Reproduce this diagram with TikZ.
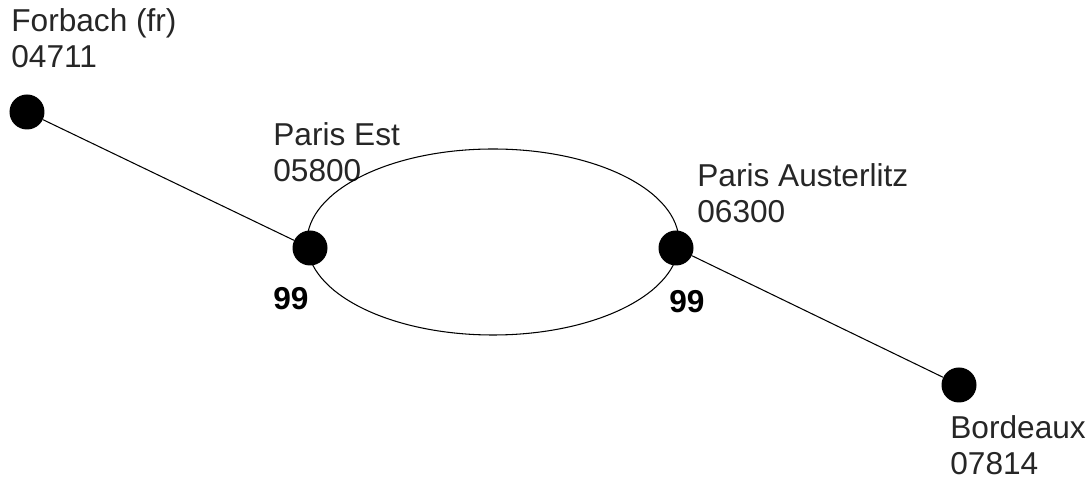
\documentclass[tikz,border=0pt]{standalone}
\usepackage{fontspec}
\setmainfont{Liberation Sans}
\usetikzlibrary{calc}
\tikzset{
	station/.style={circle, fill=black, inner sep=0pt, minimum size=0.7cm},
	stationname/.style={anchor=base west, inner sep=0pt, align=left, color=black!85,
		font=\fontsize{18}{20.5}\selectfont},
	weight/.style={anchor=base west, inner sep=0pt,
		font=\fontsize{18}{20.5}\selectfont\bfseries}
}

\begin{document}
\begin{tikzpicture}
		%%%%% START %%%%%
		\useasboundingbox (0, 0) rectangle (21.84, 9.64);
		
		\node[station] (forbach) at (0.54, 7.40) {};
		\node[station] (parisest) at (6.20, 4.68) {};
		\node[station] (austerlitz) at (13.52, 4.68) {};
		\node[station] (bordeaux) at (19.18, 1.94) {};
		
		% base of a two-line node = baseline of its last line
		\node[stationname] (forbachname) at (0.22, 8.28) {Forbach (fr)\\04711};
		\node[stationname] (parisestname) at (5.46, 6.00) {Paris Est\\05800};
		\node[stationname] (austerlitzname) at (13.94, 5.18) {Paris Austerlitz\\06300};
		\node[stationname] (bordeauxname) at (19.00, 0.14) {Bordeaux\\07814};
		
		\node[weight] (parisestweight) at (5.46, 3.44) {99};
		\node[weight] (austerlitzweight) at (13.38, 3.38) {99};
		
		\draw[line width=0.6pt] (forbach) -- (parisest);
		\draw[line width=0.6pt] (austerlitz) -- (bordeaux);
		\draw[line width=0.6pt] ($(parisest)!0.5!(austerlitz)+(0, 0.12)$) ellipse (3.72 and 1.86);
		
		%%%%% END %%%%%
	\end{tikzpicture}
\end{document}
